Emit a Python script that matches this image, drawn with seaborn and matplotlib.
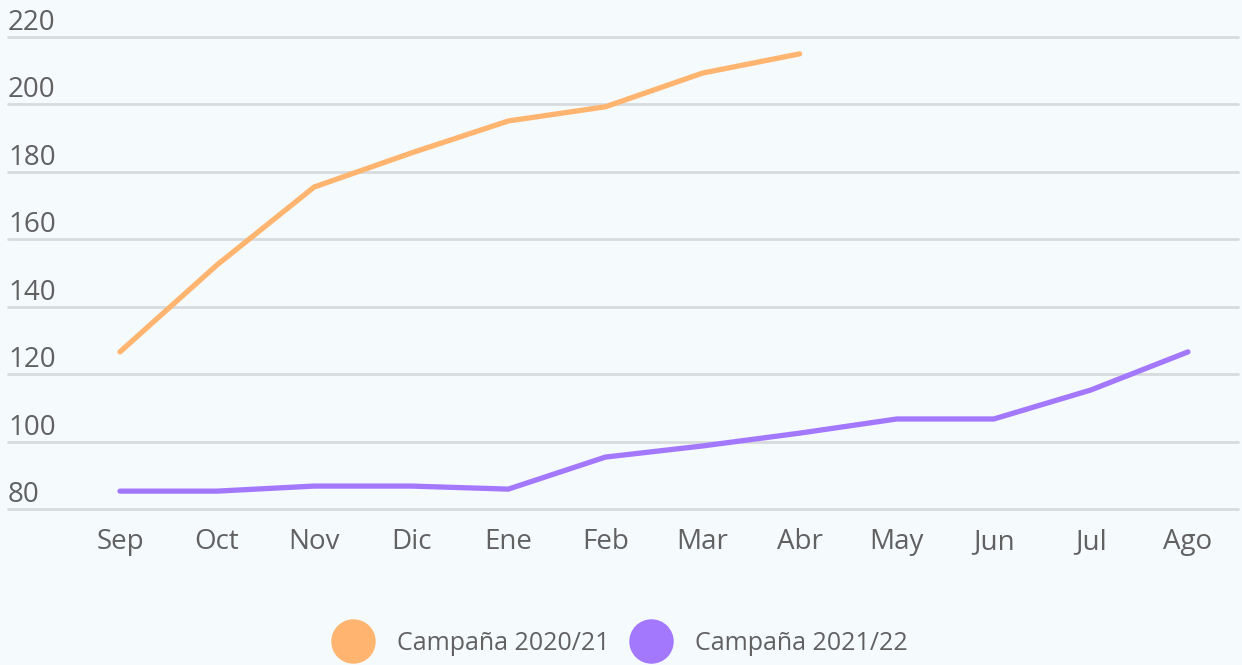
import pandas as pd
import seaborn as sns
import matplotlib.pyplot as plt
from matplotlib.lines import Line2D

# --- Data ---
meses = ["Sep", "Oct", "Nov", "Dic", "Ene", "Feb", "Mar", "Abr", "May", "Jun", "Jul", "Ago"]
campana_2020 = [126.6, 152.4, 175.5, 185.6, 195.1, 199.3, 209.3, 215.0]
campana_2021 = [85.3, 85.3, 86.8, 86.8, 85.9, 95.4, 98.7, 102.5, 106.7, 106.7, 115.3, 126.6]
series_names = ["Campaña 2020/21", "Campaña 2021/22"]
y_ticks = [80, 100, 120, 140, 160, 180, 200, 220]

colors = ["#ffb570", "#a478fc"]
bg = "#f5fafd"
text_color = "#616161"

df = pd.concat([
    pd.DataFrame({"mes": meses[:len(campana_2020)], "valor": campana_2020, "serie": series_names[0]}),
    pd.DataFrame({"mes": meses, "valor": campana_2021, "serie": series_names[1]}),
])

# --- Plot ---
sns.set_style("white")
plt.rcParams["font.family"] = ["Open Sans", "DejaVu Sans"]

fig = plt.figure(figsize=(12.42, 6.65), dpi=100, facecolor=bg)
ax = fig.add_axes([8 / 1242, 1 - 509 / 665, 1230 / 1242, 472 / 665])
ax.set_facecolor(bg)

sns.lineplot(data=df, x="mes", y="valor", hue="serie", palette=colors,
             sort=False, linewidth=3.8, legend=False, ax=ax)

ax.set_xlim(-1.153, 11.515)
ax.set_ylim(80, 220)
ax.set_yticks(y_ticks)
ax.set_xticks(range(len(meses)))
ax.set_xticklabels(meses)
ax.grid(axis="y", color="#d7dbde", linewidth=2)
ax.set_axisbelow(True)
for gl in ax.get_ygridlines():
    gl.set_clip_on(False)
for s in ax.spines.values():
    s.set_visible(False)
ax.set_xlabel("")
ax.set_ylabel("")

ax.tick_params(axis="x", length=0, pad=14, labelsize=20, labelcolor=text_color)
ax.tick_params(axis="y", length=0, pad=0, labelsize=20, labelcolor=text_color)
for lbl in ax.get_yticklabels():
    lbl.set_horizontalalignment("left")
    lbl.set_verticalalignment("bottom")

handles = [Line2D([], [], linestyle="none", marker="o", markersize=31,
                  markerfacecolor=c, markeredgecolor=c) for c in colors]
fig.legend(handles, series_names, loc="center", bbox_to_anchor=(0.5, 1 - 643 / 665),
           ncol=2, frameon=False, fontsize=18, labelcolor=text_color,
           handletextpad=1.0, columnspacing=0.9, handlelength=1.5)

plt.savefig("out.png", dpi=100, facecolor=bg)
